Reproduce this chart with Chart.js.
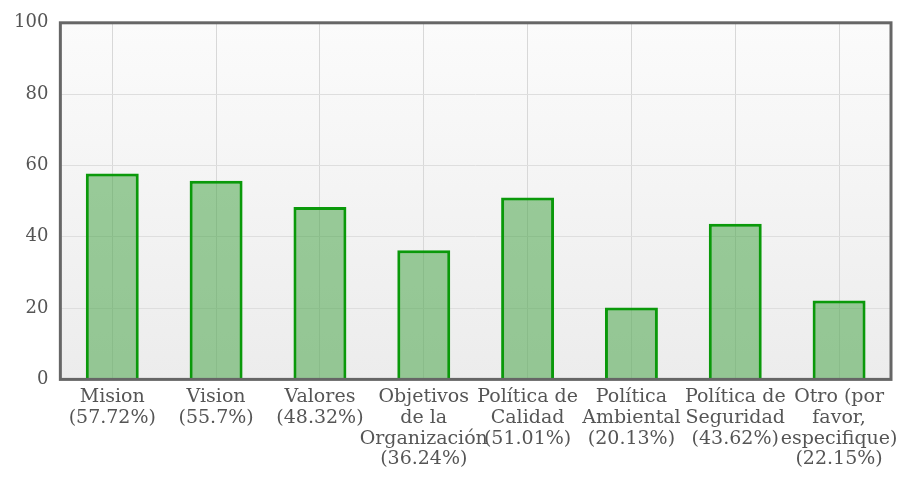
<!DOCTYPE html>
<html>
<head>
<meta charset="utf-8">
<script src="https://cdn.jsdelivr.net/npm/chart.js@4/dist/chart.umd.min.js"></script>
<style>
  body { margin: 0; background: #fff; overflow: hidden; }
  #myChart { display: block; }
</style>
</head>
<body>
<canvas id="myChart" width="907" height="477"></canvas>
<script>
const categories = [
  ["Mision", "(57.72%)"],
  ["Vision", "(55.7%)"],
  ["Valores", "(48.32%)"],
  ["Objetivos", "de la", "Organización", "(36.24%)"],
  ["Política de", "Calidad", "(51.01%)"],
  ["Política", "Ambiental", "(20.13%)"],
  ["Política de", "Seguridad", "(43.62%)"],
  ["Otro (por", "favor,", "especifique)", "(22.15%)"]
];
const percentages = [57.72, 55.7, 48.32, 36.24, 51.01, 20.13, 43.62, 22.15];
const yTicks = [0, 20, 40, 60, 80, 100];

// gradient background + dark frame around the plot area
const frame = {
  id: "frame",
  beforeDraw(chart) {
    const { ctx, chartArea: a } = chart;
    const g = ctx.createLinearGradient(0, a.top, 0, a.bottom);
    g.addColorStop(0, "#fbfbfb");
    g.addColorStop(1, "#ececec");
    ctx.save();
    ctx.fillStyle = g;
    ctx.fillRect(a.left, a.top, a.right - a.left, a.bottom - a.top);
    ctx.restore();
  },
  afterDraw(chart) {
    const { ctx, chartArea: a } = chart;
    ctx.save();
    ctx.strokeStyle = "#666";
    ctx.lineWidth = 3;
    ctx.strokeRect(a.left, a.top, a.right - a.left, a.bottom - a.top);
    ctx.restore();
  }
};

const ctx = document.getElementById("myChart");
new Chart(ctx, {
  type: "bar",
  data: {
    labels: categories,
    datasets: [{
      data: percentages,
      backgroundColor: "rgba(60,160,60,0.5)",
      borderColor: "#0a990a",
      borderWidth: 3,
      barPercentage: 0.51,
      categoryPercentage: 1
    }]
  },
  plugins: [frame],
  options: {
    responsive: false,
    animation: false,
    layout: { padding: { top: 21, right: 16, left: 2, bottom: 0 } },
    plugins: { legend: { display: false }, tooltip: { enabled: false } },
    scales: {
      x: {
        grid: { offset: false, color: "#d8d8d8", drawTicks: false },
        border: { display: false },
        ticks: {
          autoSkip: false, maxRotation: 0, minRotation: 0,
          color: "#555", padding: 7,
          font: { family: "'DejaVu Serif', serif", size: 19, lineHeight: 1.1 }
        }
      },
      y: {
        min: 0, max: 100,
        afterBuildTicks(scale) { scale.ticks = yTicks.map(v => ({ value: v })); },
        grid: { color: "#dedede", drawTicks: false },
        border: { display: false },
        ticks: {
          color: "#555", padding: 12,
          font: { family: "'DejaVu Serif', serif", size: 18 }
        }
      }
    }
  }
});
</script>
</body>
</html>
